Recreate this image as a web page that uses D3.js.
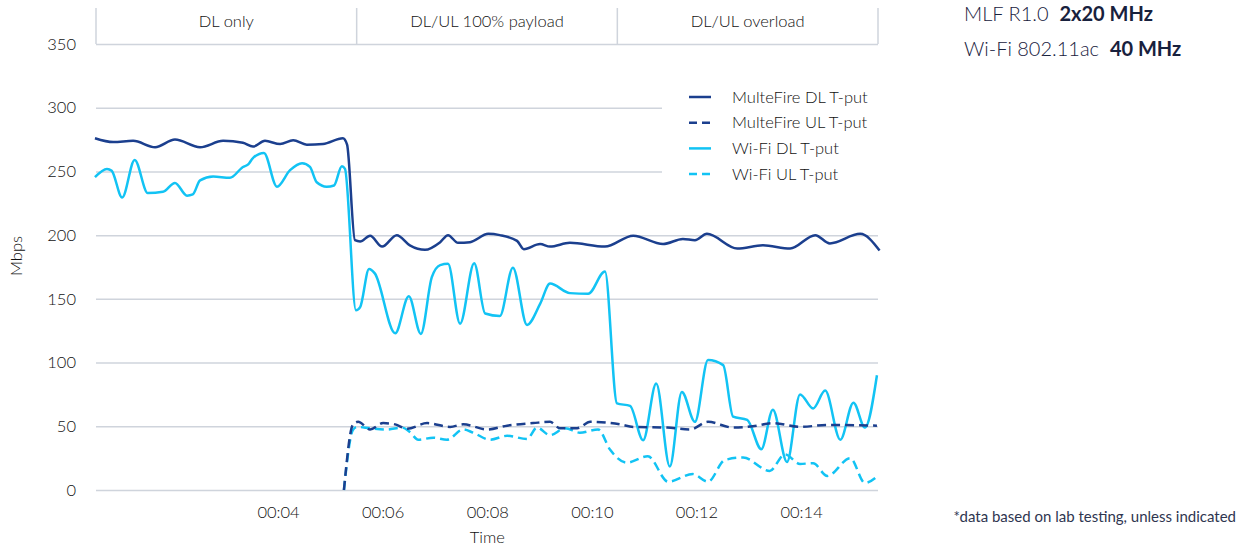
<!DOCTYPE html>
<html>
<head>
<meta charset="utf-8">
<script src="https://cdn.jsdelivr.net/npm/d3@7"></script>
<style>
  body { margin: 0; background: #fff; }
  svg text { font-family: Lato, "Noto Sans", sans-serif; white-space: pre; }
</style>
</head>
<body>
<div id="chart"></div>
<script>
// Phases shown in the header strip
const phases = ["DL only", "DL/UL 100% payload", "DL/UL overload"];

// Series as [seconds, Mbps]
const mfDL = [[0.50,276],[0.85,273],[1.23,274],[1.65,269],[2.03,275],[2.51,269],[2.95,274],[3.33,272.5],[3.52,269.5],[3.75,274],[4.04,271.5],[4.29,274.5],[4.55,271],[4.86,271.5],[5.24,276],[5.32,271],[5.47,196],[5.57,195],[5.76,199.5],[5.99,191],[6.27,200],[6.52,192],[6.81,188.5],[7.10,194.5],[7.25,200],[7.44,194],[7.67,194.5],[8.02,201],[8.24,200],[8.57,195.5],[8.70,189],[9.01,193],[9.20,191],[9.58,194],[10.25,191],[10.79,199.5],[11.36,193],[11.74,197],[11.97,196],[12.20,201],[12.78,189.5],[13.27,192],[13.79,189.5],[14.27,200],[14.55,193.5],[15.13,201],[15.50,188]];

const mfUL = [[5.26,0],[5.43,51],[5.53,53.5],[5.76,47.5],[6.01,52.5],[6.24,51.5],[6.47,48],[6.85,52.5],[7.29,49.5],[7.54,51.5],[8.00,47.5],[8.38,50.5],[8.88,52.5],[9.20,53.5],[9.39,48.5],[9.72,48.5],[9.97,53.5],[10.54,51.5],[10.79,49.5],[11.44,49],[11.88,47.5],[12.22,53.5],[12.70,49],[13.08,50],[13.46,52.5],[13.98,49.5],[14.50,51],[15.45,50.5]];

const wifiDL = [[0.50,245.5],[0.73,252],[0.82,250.5],[1.02,229.5],[1.26,259],[1.51,233],[1.80,234],[2.03,241],[2.26,231],[2.37,232],[2.51,243],[2.76,246],[3.08,245],[3.33,253.5],[3.43,255.5],[3.52,260.5],[3.73,264.5],[3.98,238],[4.23,251],[4.46,256.5],[4.61,253.5],[4.74,241.5],[4.93,238],[5.07,239],[5.22,254],[5.28,252],[5.49,141],[5.57,143.5],[5.74,173.5],[5.85,170],[6.24,123],[6.50,152],[6.73,122.5],[6.94,167],[7.10,176.5],[7.25,177.5],[7.48,130.5],[7.75,178],[7.96,138.5],[8.24,136.5],[8.49,174.5],[8.76,129.5],[9.01,146],[9.20,162],[9.58,154.5],[9.93,154],[10.25,171.5],[10.48,68],[10.73,66],[10.98,39],[11.23,83.5],[11.49,18.5],[11.72,77],[11.97,53.5],[12.22,102],[12.51,98],[12.70,57.5],[12.97,55],[13.24,32],[13.46,63],[13.73,22],[13.98,75],[14.23,64],[14.46,78],[14.75,39.5],[15.00,68.5],[15.22,49],[15.45,90]];

const wifiUL = [[5.26,0],[5.43,47],[5.51,49.5],[5.76,48.5],[6.08,47.5],[6.37,49],[6.52,45.5],[6.68,39.5],[6.97,41],[7.23,39.5],[7.54,47.5],[7.73,45],[8.05,39.5],[8.38,42.5],[8.76,40],[8.95,49],[9.20,43],[9.49,48.5],[9.77,45],[10.12,47.5],[10.35,31.5],[10.67,21.5],[11.07,26.5],[11.46,6.5],[11.93,12.5],[12.22,6.5],[12.54,23.5],[12.89,25.5],[13.40,15],[13.69,28],[13.98,20.5],[14.23,21],[14.50,11],[14.94,25],[15.22,5.5],[15.45,10.5]];

const seriesNames = ["MulteFire DL T-put", "MulteFire UL T-put", "Wi-Fi DL T-put", "Wi-Fi UL T-put"];
const yTicks = [0, 50, 100, 150, 200, 250, 300, 350];
const xTicks = [4, 6, 8, 10, 12, 14];

const W = 1242, H = 548;
const plot = {left: 96, right: 878, top: 44, bottom: 490};

const navy = "#1b3f8e", cyan = "#12c3f4", grid = "#cfd4dc", ink = "#111";
const fs = 16.5;

const svg = d3.select("#chart").append("svg")
    .attr("width", W)
    .attr("height", H);

const x = d3.scaleLinear().domain([0.52, 15.47]).range([plot.left, plot.right]);
const y = d3.scaleLinear().domain([0, 350]).range([plot.bottom, plot.top]);

// gridlines + y labels
const yAxis = svg.append("g")
    .attr("transform", `translate(${plot.left},0)`)
    .call(d3.axisLeft(y).tickValues(yTicks).tickSize(-(plot.right - plot.left)).tickPadding(20));
yAxis.select(".domain").remove();
yAxis.selectAll("line").attr("stroke", grid).attr("stroke-width", 1.5);
yAxis.selectAll("text").attr("fill", ink).attr("font-size", fs).attr("font-weight", 300);

// header strip with phase labels
const band = d3.scaleBand().domain(phases).range([plot.left, plot.right]);
const header = svg.append("g");
header.selectAll("line")
    .data(d3.range(phases.length + 1))
  .enter().append("line")
    .attr("x1", i => plot.left + i * band.bandwidth())
    .attr("x2", i => plot.left + i * band.bandwidth())
    .attr("y1", 8).attr("y2", plot.top)
    .attr("stroke", grid).attr("stroke-width", 1.5);
header.selectAll("text")
    .data(phases)
  .enter().append("text")
    .attr("x", d => band(d) + band.bandwidth() / 2)
    .attr("y", 27)
    .attr("text-anchor", "middle")
    .attr("font-size", fs).attr("font-weight", 300)
    .attr("fill", ink)
    .text(d => d);

// x axis labels
const xAxis = svg.append("g")
    .attr("transform", `translate(0,${plot.bottom})`)
    .call(d3.axisBottom(x).tickValues(xTicks).tickSize(0).tickPadding(16)
      .tickFormat(d => "00:" + String(d).padStart(2, "0")));
xAxis.select(".domain").remove();
xAxis.selectAll("text").attr("fill", ink).attr("font-size", fs).attr("font-weight", 300);

svg.append("text")
    .attr("x", x(8)).attr("y", 543)
    .attr("text-anchor", "middle")
    .attr("font-size", fs).attr("font-weight", 300).attr("fill", ink)
    .text("Time");

svg.append("text")
    .attr("transform", "translate(22,256) rotate(-90)")
    .attr("text-anchor", "middle")
    .attr("font-size", fs).attr("font-weight", 300).attr("fill", ink)
    .text("Mbps");

// legend backdrop hides the gridlines behind it
svg.append("rect")
    .attr("x", 662).attr("y", 82)
    .attr("width", plot.right - 662 + 2).attr("height", 104)
    .attr("fill", "#fff");

// lines
const line = d3.line()
    .x(d => x(d[0]))
    .y(d => y(d[1]))
    .curve(d3.curveMonotoneX);

const series = [
  {data: mfDL, color: navy, dash: null},
  {data: mfUL, color: navy, dash: "9,5"},
  {data: wifiDL, color: cyan, dash: null},
  {data: wifiUL, color: cyan, dash: "9,5"}
];

svg.append("g").selectAll("path")
    .data([series[3], series[2], series[1], series[0]])
  .enter().append("path")
    .attr("d", d => line(d.data))
    .attr("fill", "none")
    .attr("stroke", d => d.color)
    .attr("stroke-width", 2.5)
    .attr("stroke-dasharray", d => d.dash)
    .attr("stroke-linejoin", "round");

// legend
const legend = svg.append("g");
const lg = legend.selectAll("g")
    .data(series)
  .enter().append("g")
    .attr("transform", (d, i) => `translate(689,${97 + i * 25.7})`);
lg.append("line")
    .attr("x1", 0).attr("x2", 22)
    .attr("stroke", d => d.color)
    .attr("stroke-width", 2.5)
    .attr("stroke-dasharray", d => d.dash ? "8,5" : null);
lg.append("text")
    .attr("x", 43).attr("dy", "0.35em")
    .attr("font-size", fs).attr("font-weight", 300).attr("fill", ink)
    .text((d, i) => seriesNames[i]);

// side notes
const note = svg.append("g").attr("fill", "#18213d").attr("font-size", 20);
const n1 = note.append("text").attr("x", 964).attr("y", 21);
n1.append("tspan").attr("font-weight", 300).text("MLF R1.0  ");
n1.append("tspan").attr("font-weight", "bold").text("2x20 MHz");
const n2 = note.append("text").attr("x", 964).attr("y", 56);
n2.append("tspan").attr("font-weight", 300).text("Wi-Fi 802.11ac  ");
n2.append("tspan").attr("font-weight", "bold").text("40 MHz");

svg.append("text")
    .attr("x", 1236).attr("y", 522)
    .attr("text-anchor", "end")
    .attr("font-size", 15).attr("fill", "#2f3650")
    .text("*data based on lab testing, unless indicated");
</script>
</body>
</html>
